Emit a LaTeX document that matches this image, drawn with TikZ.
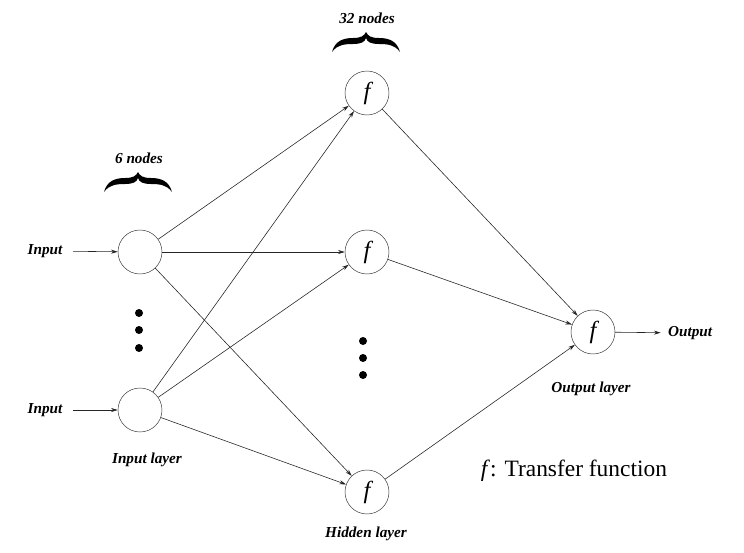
\documentclass[tikz,border=0pt]{standalone}
\usepackage{fontspec}
\setmainfont{Liberation Serif}
\usetikzlibrary{arrows.meta}

\begin{document}
\begin{tikzpicture}[x=0.03cm,y=-0.03cm,
  neuron/.style={draw=black!80,circle,minimum size=1.32cm,inner sep=0pt,font=\fontsize{21}{21}\selectfont\itshape},
  lbl/.style={font=\fontsize{13}{15}\selectfont\bfseries\itshape},
  conn/.style={-{Stealth[length=0.2cm,width=0.12cm]},black!85,line width=0.5pt}]
  \useasboundingbox (0,0) rectangle (744,553);

  % layers
  \node (i1) [neuron] at (140,252) {};
  \node (i2) [neuron] at (140,410) {};
  \node (h1) [neuron] at (367,93) {f};
  \node (h2) [neuron] at (367,252) {f};
  \node (h3) [neuron] at (367,492) {f};
  \node (o) [neuron] at (593,332) {f};

  \foreach \a in {i1,i2}
    \foreach \b in {h1,h2,h3}
      \draw [conn] (\a) -- (\b);
  \foreach \b in {h1,h2,h3}
    \draw [conn] (\b) -- (o);

  % inputs and output
  \node (in1) [lbl] at (45,251) {Input};
  \node (in2) [lbl] at (45,410) {Input};
  \draw [conn, shorten <=0.2cm] (in1) -- (i1);
  \draw [conn, shorten <=0.2cm] (in2) -- (i2);
  \node (out) [lbl,anchor=west] at (664,333) {Output};
  \draw [conn, shorten >=0.1cm] (o) -- (out);

  % dots
  \foreach \y in {313,330,348}
    \fill (139,\y) circle[radius=0.12cm];
  \foreach \y in {341,358,375}
    \fill (363,\y) circle[radius=0.12cm];

  % braces (cusp at the given point)
  \foreach \x/\y in {138/172,366/32}
    \fill [shift={(\x,\y)}] (-34,20) .. controls (-31,9) and (-23,6) .. (-13,6)
      .. controls (-5,6) and (-2,4) .. (0,0)
      .. controls (2,4) and (5,6) .. (13,6)
      .. controls (23,6) and (31,9) .. (34,20)
      .. controls (29,13) and (22,12) .. (13,12)
      .. controls (5,12) and (1,10) .. (0,6)
      .. controls (-1,10) and (-5,12) .. (-13,12)
      .. controls (-22,12) and (-29,13) .. (-34,20) -- cycle;
  \node (n6) [lbl] at (139,158) {6 nodes};
  \node (n32) [lbl] at (367,18) {32 nodes};

  % layer names
  \node (li) [lbl] at (147,460) {Input layer};
  \node (lh) [lbl] at (366,534) {Hidden layer};
  \node (lo) [lbl] at (591,389) {Output layer};
  \node (tf) [font=\fontsize{20}{22}\selectfont] at (574,471) {\textit{f}: Transfer function};
\end{tikzpicture}
\end{document}
